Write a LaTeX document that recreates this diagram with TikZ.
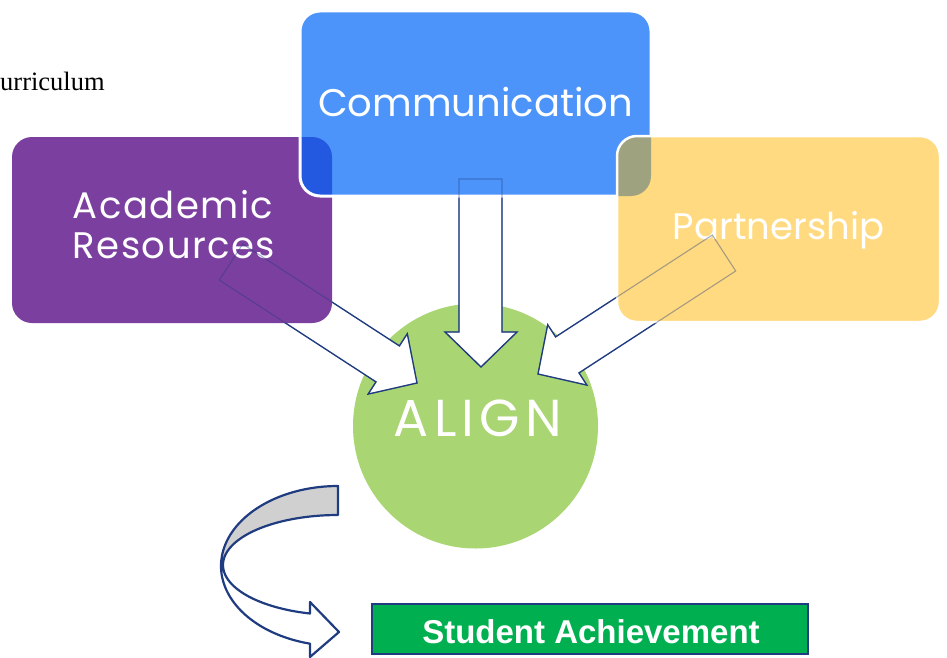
\documentclass[tikz,border=0pt]{standalone}
\usepackage{fontspec}
\setmainfont{Poppins}
\newfontfamily\arialf{Liberation Sans}
\newfontfamily\timesf{Liberation Serif}
\definecolor{cblue}{HTML}{4C94FA}
\definecolor{cpurple}{HTML}{7B3F9F}
\definecolor{cyellow}{HTML}{FFDA80}
\definecolor{cgreen}{HTML}{A9D572}
\definecolor{cdarkblue}{HTML}{2358E0}
\definecolor{colive}{HTML}{9EA27E}
\definecolor{cnavy}{HTML}{203C80}
\definecolor{cgray}{HTML}{D0D0D0}
\definecolor{cgreenbox}{HTML}{00B050}
\begin{document}
\begin{tikzpicture}[x=1pt,y=-1pt,
  blockarrow/.style={fill=white, draw=cnavy, line width=1.3pt, line join=miter},
  faintline/.style={draw=cnavy, line width=1.1pt, opacity=0.4, line join=miter},
  boxtext/.style={text=white, inner sep=0pt, anchor=base, align=center},
  curvedarrow/.style={draw=cnavy, line width=2.2pt, line join=round},
  satextstyle/.style={inner sep=0pt, anchor=base, text=white, font=\arialf\bfseries\fontsize{33}{33}\selectfont}]
\useasboundingbox (0,0) rectangle (947,658);
% circle
\node[circle, fill=cgreen, minimum size=245pt, inner sep=0pt] (alignc) at (475.5,426) {};
% block arrows
\path[blockarrow] (459,179) -- (502,179) -- (502,332) -- (517,332) -- (481,367) -- (445,332) -- (459,332) -- cycle;
\path[blockarrow] (242.7,244.0) -- (399.4,345.9) -- (407.3,333.7) -- (417,383) -- (368.1,394.1) -- (376.0,381.9) -- (219.3,280.0) -- cycle;
\path[blockarrow] (712.3,235) -- (555.6,336.9) -- (547.7,324.7) -- (538,374) -- (586.9,385.1) -- (579,372.9) -- (735.7,271) -- cycle;
% boxes
\fill[cpurple, rounded corners=20pt] (12,137) rectangle (332,323);
\fill[cblue, rounded corners=20pt] (300,11) rectangle (651,196);
\begin{scope}
  \clip[rounded corners=20pt] (12,137) rectangle (332,323);
  \fill[cdarkblue, rounded corners=20pt] (300,11) rectangle (651,196);
\end{scope}
\draw[white, line width=3pt, rounded corners=20pt] (300,11) rectangle (651,196);
\fill[cyellow, rounded corners=20pt] (617,136) rectangle (940,322);
\begin{scope}
  \clip[rounded corners=20pt] (617,136) rectangle (940,322);
  \fill[colive, rounded corners=20pt] (300,11) rectangle (651,196);
\end{scope}
\draw[white, line width=2.5pt, rounded corners=20pt] (617,136) rectangle (940,322);
% texts
\node[boxtext, font=\fontsize{38.5}{38.5}\selectfont] (comm) at (475.5,116.7) {Communication};
\node[boxtext, font=\fontsize{37}{37}\selectfont\addfontfeatures{LetterSpace=4}] (acad) at (173,218) {Academic};
\node[boxtext, font=\fontsize{37}{37}\selectfont\addfontfeatures{LetterSpace=4}] (res) at (174,258) {Resources};
\node[boxtext, font=\fontsize{37}{37}\selectfont] (part) at (778.5,239.3) {Partnership};
\node[boxtext, font=\fontsize{52}{52}\selectfont\addfontfeatures{LetterSpace=10}] (align) at (478,436) {ALIGN};
\node[inner sep=0pt, anchor=base west, font=\timesf\fontsize{26.5}{26.5}\selectfont] (curr) at (0,91) {urriculum};
% faint outlines over boxes
\path[faintline] (459,179) -- (502,179) -- (502,332) -- (517,332) -- (481,367) -- (445,332) -- (459,332) -- cycle;
\path[faintline] (242.7,244.0) -- (399.4,345.9) -- (407.3,333.7) -- (417,383) -- (368.1,394.1) -- (376.0,381.9) -- (219.3,280.0) -- cycle;
\path[faintline] (712.3,235) -- (555.6,336.9) -- (547.7,324.7) -- (538,374) -- (586.9,385.1) -- (579,372.9) -- (735.7,271) -- cycle;
% curved arrow
\filldraw[curvedarrow, fill=cgray] (338,486)
  -- plot[domain=90:180, samples=40, variable=\t] ({338+117*cos(\t)}, {566-80*sin(\t)})
  -- plot[domain=180:90, samples=40, variable=\t] ({338+115*cos(\t)}, {565-50*sin(\t)})
  -- cycle;
\filldraw[curvedarrow, fill=white] (221,566)
  -- plot[domain=180:255.9, samples=40, variable=\t] ({338+115*cos(\t)}, {565-50*sin(\t)})
  -- (310,602) -- (339,632) -- (310,657)
  -- plot[domain=256.2:180, samples=40, variable=\t] ({338+117*cos(\t)}, {566-80*sin(\t)})
  -- cycle;
% student achievement
\node[draw=cnavy, line width=1.2pt, fill=cgreenbox, minimum width=436pt, minimum height=50pt, inner sep=0pt] (sa) at (590,629) {};
\node[satextstyle] (satext) at (591,643) {Student Achievement};
\end{tikzpicture}
\end{document}
